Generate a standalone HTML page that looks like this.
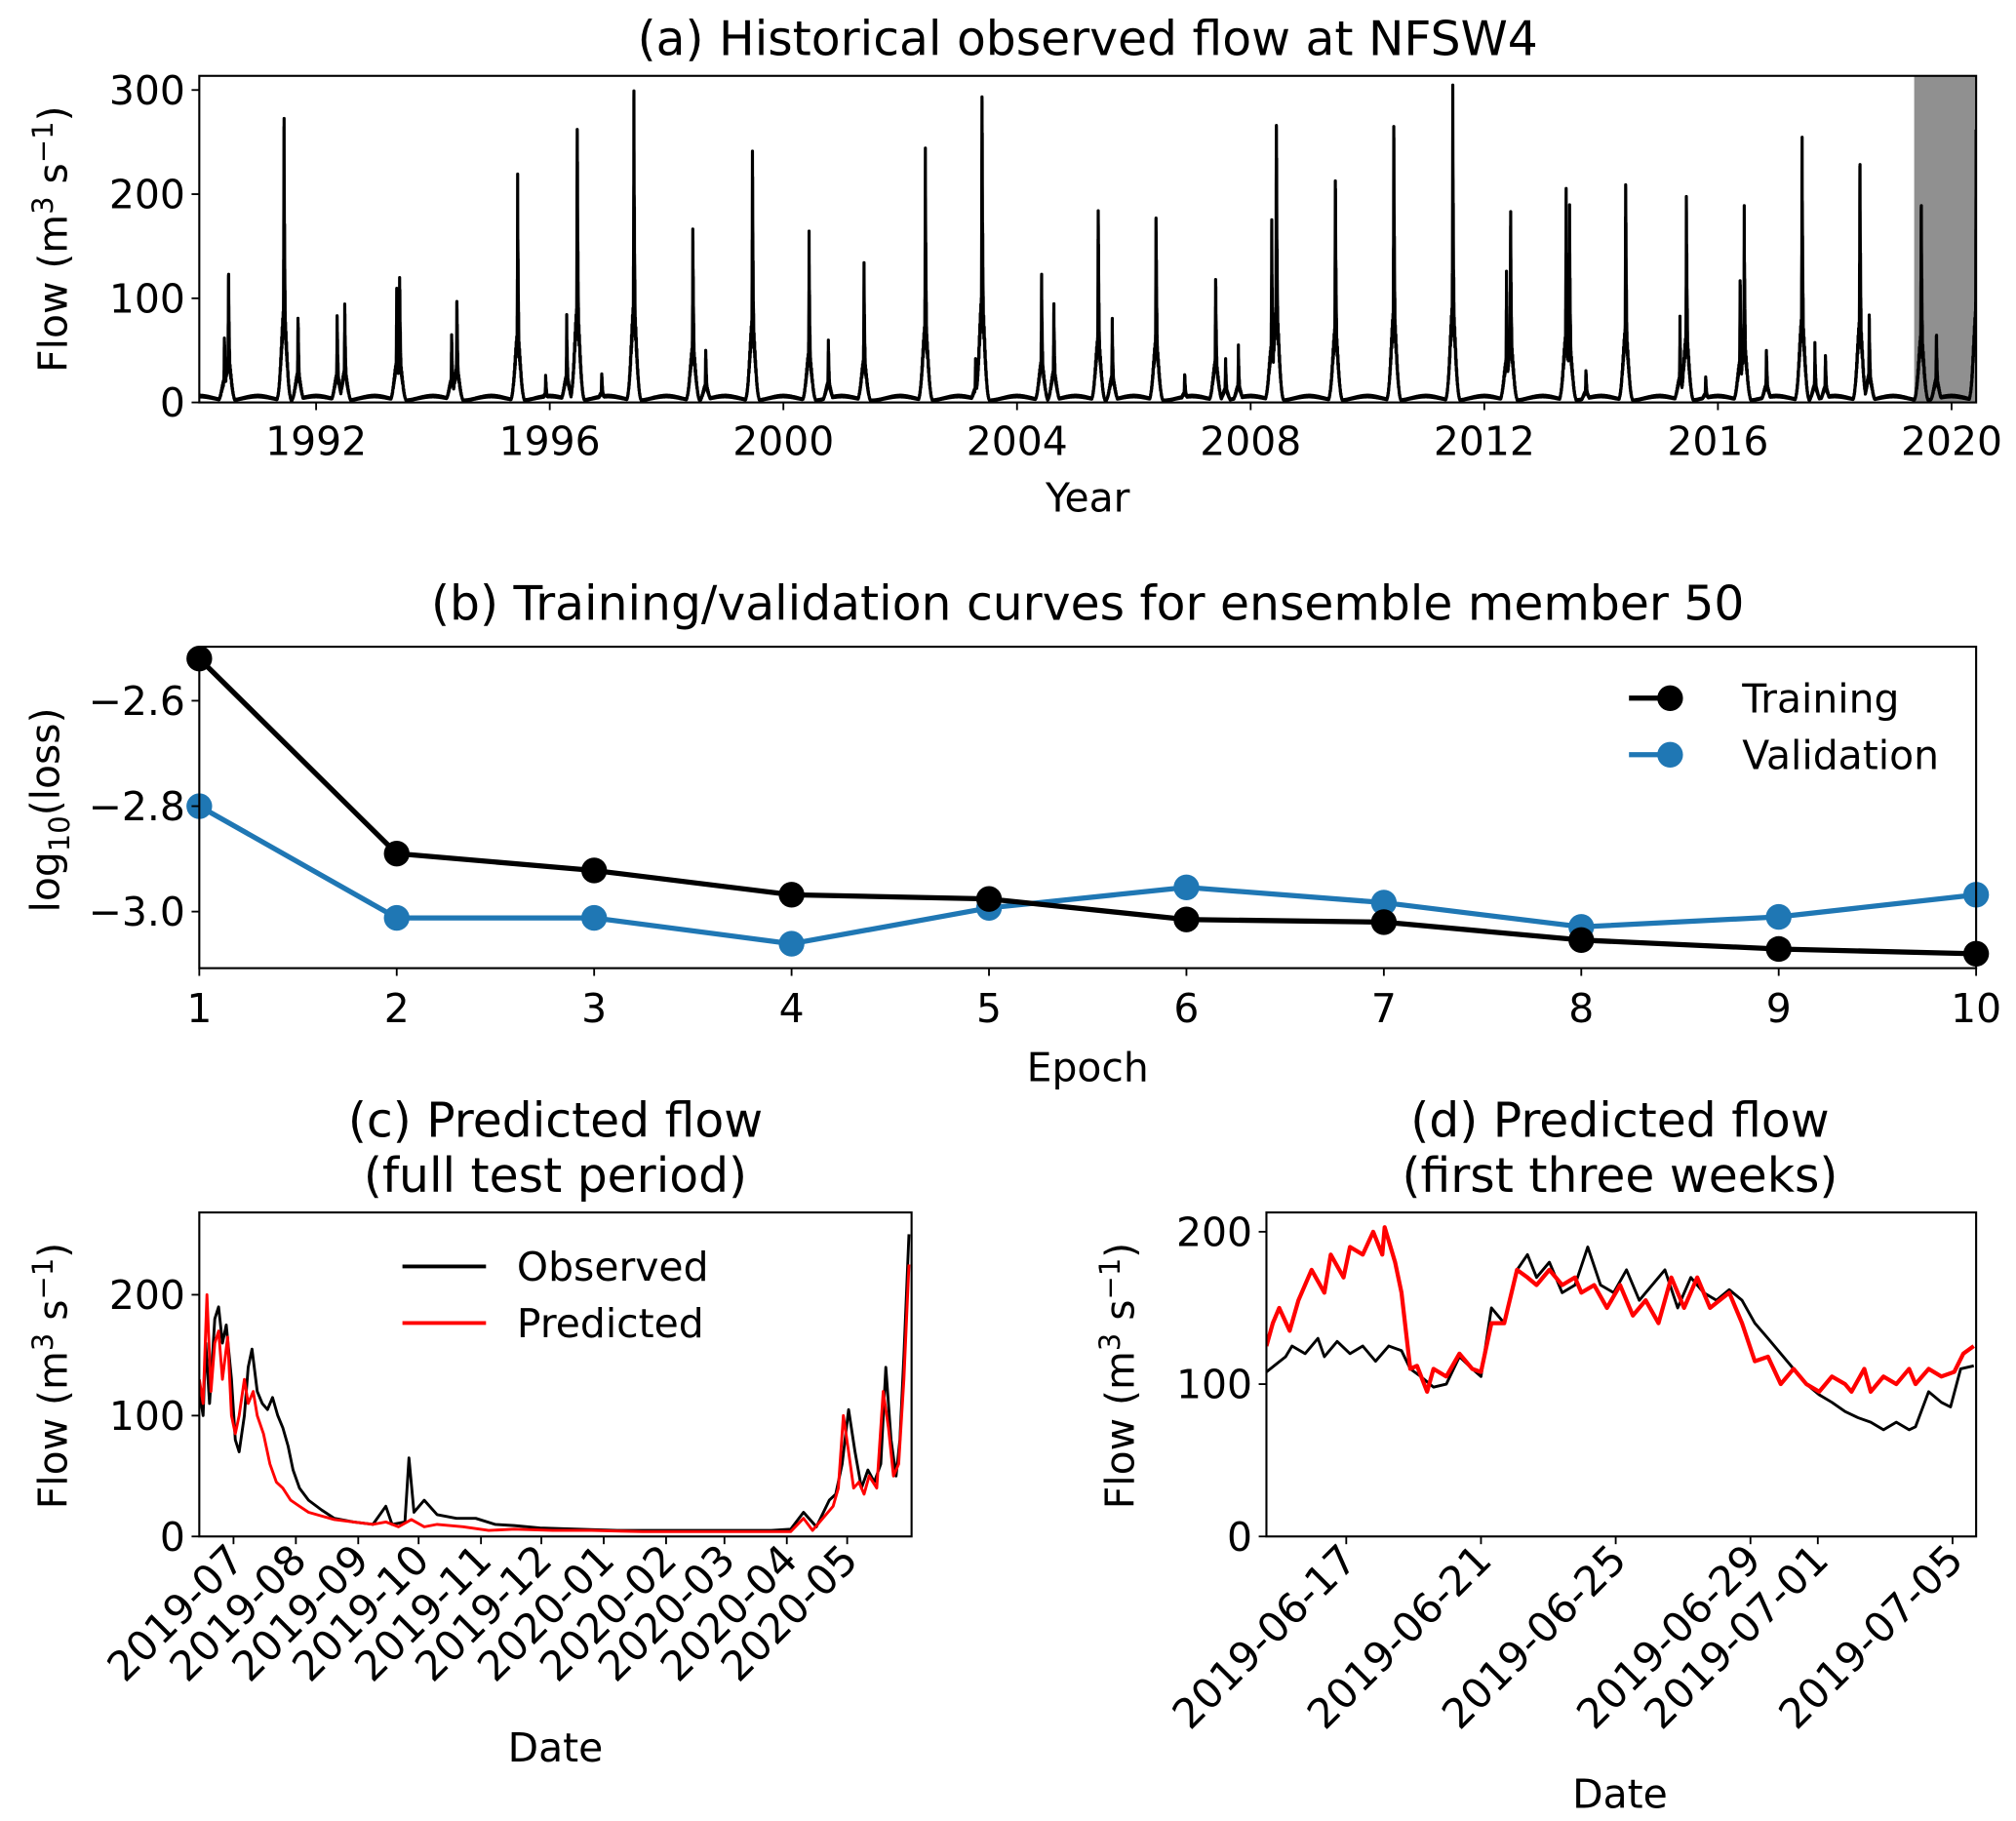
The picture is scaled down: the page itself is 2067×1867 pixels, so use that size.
<!DOCTYPE html>
<html><head><meta charset="utf-8"><style>
html,body{margin:0;padding:0;background:#fff;}
svg{display:block;font-family:"DejaVu Sans","Liberation Sans",sans-serif;}
</style></head><body>
<svg id="fig" width="2067" height="1867" viewBox="0 0 1568 1416.3" xmlns="http://www.w3.org/2000/svg"></svg>
<script>
// ---- Panel (a) data: annual peaks [decimal year, flow] ----
const aPeakYears = [1990.43,1990.5,1991.45,1991.69,1992.36,1992.49,1993.38,1993.43,1994.32,1994.41,1995.45,1995.93,1996.29,1996.47,1996.89,1997.44,1998.45,1998.67,1999.47,2000.44,2000.77,2001.38,2002.43,2003.29,2003.4,2004.42,2004.63,2005.39,2005.63,2006.38,2006.87,2007.4,2007.57,2007.79,2008.36,2008.44,2009.45,2010.45,2011.46,2012.38,2012.45,2013.4,2013.46,2013.74,2014.42,2015.35,2015.46,2015.79,2016.38,2016.45,2016.83,2017.44,2017.66,2017.84,2018.43,2018.59,2019.48,2019.74,2020.42];
const aPeakFlows = [65,125,265,85,80,90,112,120,65,97,195,25,75,268,28,278,160,50,235,143,57,122,222,40,300,117,90,184,75,177,28,118,40,48,163,272,213,258,277,120,178,191,165,32,209,72,190,25,117,168,50,242,50,45,232,80,192,67,262];
const aTicks = [1992,1996,2000,2004,2008,2012,2016,2020];
const aYTicks = [0,100,200,300];
// ---- Panel (b) data ----
const epochs = [1,2,3,4,5,6,7,8,9,10];
const trainLoss = [-2.520,-2.890,-2.922,-2.968,-2.976,-3.015,-3.020,-3.054,-3.071,-3.080];
const valLoss = [-2.800,-3.012,-3.012,-3.061,-2.993,-2.954,-2.983,-3.029,-3.010,-2.968];
const bYTicks = [-2.6,-2.8,-3.0];
// ---- Panel (c) data: days since 2019-06-14 ----
const cObsDays = [0,1.9,3.2,5.1,7.7,9.6,11.5,13.4,16,17.9,19.8,22.4,24.3,26.2,28.8,31.3,33.9,36.4,39,41.5,44.1,46.6,49.8,54.3,60.7,67.1,76.7,86.3,92.7,95.8,102.2,104.2,106.7,111.8,118.2,127.8,137.4,147,156.5,169.3,188.5,207.7,233.2,258.8,284.3,293.9,300.3,306.7,313.1,316.3,319.5,322.7,325.9,329.1,332.3,335.5,338.7,341.2,343.8,346.3,348.2,350.2,352.7];
const cObsFlow = [120,100,160,110,180,190,160,175,130,80,70,100,140,155,120,110,105,115,100,90,75,55,40,30,22,15,12,10,25,10,12,65,20,30,18,15,15,10,9,7,6,5,5,5,5,6,20,8,30,35,60,105,70,40,55,45,60,140,80,50,80,150,250];
const cPredDays = [0,1.9,3.8,5.8,7.7,9.6,11.5,14.1,16,17.9,19.8,22.4,24.3,26.8,28.8,31.9,35.1,38.3,41.5,45.4,49.8,54.3,60.7,67.1,76.7,86.3,92.7,99,105.4,111.8,118.2,131,143.8,156.5,175.7,194.9,220.4,246,271.6,293.9,300.3,304.8,309.9,315,317.6,320.1,322.7,325.2,327.8,330.4,332.9,336.7,339.9,342.5,345,347.6,350.2,352.7];
const cPredFlow = [130,110,200,120,160,170,130,165,100,85,100,130,110,120,100,85,60,45,40,30,25,20,17,14,12,10,12,8,14,8,10,8,5,6,5,5,4,4,4,4,15,5,15,25,40,100,70,40,45,35,50,40,120,90,50,60,130,225];
const cTickDays = [17,48,79,109,140,170,201,232,261,292,322];
const cTickLabels = ["2019-07","2019-08","2019-09","2019-10","2019-11","2019-12","2020-01","2020-02","2020-03","2020-04","2020-05"];
const cYTicks = [0,100,200];
// ---- Panel (d) data: days since 2019-06-14 14:00 ----
const dObsDays = [0,0.57,0.76,1.15,1.53,1.72,2.10,2.48,2.86,3.24,3.63,4.01,4.27,4.58,4.96,5.34,5.73,6.11,6.37,6.68,7.06,7.44,7.75,8.02,8.40,8.78,9.16,9.54,9.92,10.31,10.69,11.07,11.45,11.83,12.21,12.60,12.98,13.36,13.74,14.12,14.50,14.89,15.27,15.65,16.03,16.41,16.79,17.18,17.56,17.94,18.32,18.70,19.08,19.27,19.66,20.04,20.31,20.61,21.0];
const dObsFlow = [108,118,125,120,130,118,128,120,125,115,125,122,110,105,98,100,118,110,105,150,140,175,185,170,180,160,165,190,165,160,175,155,165,175,150,170,160,155,162,155,140,130,120,110,100,93,88,82,78,75,70,75,70,72,95,88,85,110,112];
const dPredDays = [0,0.19,0.38,0.69,0.95,1.34,1.72,1.91,2.29,2.48,2.86,3.17,3.44,3.51,3.82,4.01,4.27,4.47,4.77,4.96,5.34,5.73,6.11,6.37,6.68,7.06,7.44,7.75,8.02,8.40,8.78,9.16,9.35,9.73,10.11,10.50,10.88,11.26,11.64,12.02,12.40,12.79,13.17,13.74,14.12,14.50,14.89,15.27,15.65,16.03,16.41,16.79,17.18,17.37,17.75,17.94,18.32,18.70,19.08,19.27,19.66,20.04,20.42,20.69,21.0];
const dPredFlow = [125,140,150,135,155,175,160,185,170,190,185,200,185,203,180,160,110,112,95,110,105,120,110,108,140,140,175,170,165,175,165,170,160,165,150,165,145,155,140,170,150,170,150,160,140,115,118,100,110,100,95,105,100,95,110,95,105,100,110,100,110,105,108,120,125];
const dTickDays = [2.37,6.37,10.37,14.37,16.37,20.37];
const dTickLabels = ["2019-06-17","2019-06-21","2019-06-25","2019-06-29","2019-07-01","2019-07-05"];
const dYTicks = [0,100,200];

const svg = document.getElementById('fig');
const NS = 'http://www.w3.org/2000/svg';
const FT = 37, FL = 31, FD = 32;
function mk(tag, attrs, parent){const e=document.createElementNS(NS,tag);for(const k in attrs)e.setAttribute(k,attrs[k]);(parent||svg).appendChild(e);return e;}
function txt(s,x,y,size,anchor,parent,rot){const t=mk('text',{x:x,y:y,'font-size':size,'text-anchor':anchor||'middle',fill:'#000'},parent);if(rot!==undefined)t.setAttribute('transform','rotate('+rot+' '+x+' '+y+')');t.textContent=s;return t;}
function lin(d0,d1,p0,p1){return v=>p0+(v-d0)/(d1-d0)*(p1-p0);}
function poly(xs,ys,sx,sy,color,w,parent){let d='';for(let i=0;i<xs.length;i++)d+=(i?'L':'M')+sx(xs[i]).toFixed(2)+' '+sy(ys[i]).toFixed(2);return mk('path',{d:d,fill:'none',stroke:color,'stroke-width':w,'stroke-linejoin':'round'},parent);}
function frame(x0,y0,x1,y1,parent){mk('rect',{x:x0,y:y0,width:x1-x0,height:y1-y0,fill:'none',stroke:'#000','stroke-width':1.6},parent);}
function ylabelFlow(x,y,parent){const t=mk('text',{x:x,y:y,'font-size':FL,'text-anchor':'middle',transform:'rotate(-90 '+x+' '+y+')'},parent);t.innerHTML='Flow (m<tspan dy="-11" font-size="22">3</tspan><tspan dy="11"> s</tspan><tspan dy="-11" font-size="22">−1</tspan><tspan dy="11">)</tspan>';return t;}

// ===== Panel A =====
const gA = mk('g',{});


const axL=155,axR=1537,ayT=59,ayB=313;
const xa = lin(1990,2020,155,155+30*45.43), ya = lin(0,100,313,232);
mk('rect',{x:xa(2019.36),y:ayT,width:axR-xa(2019.36),height:ayB-ayT,fill:'#909090'},gA);
const cpA=mk('clipPath',{id:'clipA'});mk('rect',{x:axL,y:ayT,width:axR-axL,height:ayB-ayT},cpA);
{
  const ts=[],vs=[];
  let k=0;
  for(let t=1990.0;t<=2020.42;t+=0.0012){
    k++;
    let v=4+2*Math.cos((t%1)*6.283);
    for(let i=0;i<aPeakYears.length;i++){
      const dt=t-aPeakYears[i],p=aPeakFlows[i];
      const c1=p*Math.exp(-Math.abs(dt)/(dt<0?0.008:0.018));
      const c2=0.3*p*Math.exp(-Math.pow(dt/0.065,2));
      const c=Math.max(c1,c2);
      if(c>v)v=c;
    }
    v*= (k%7===0?1.15:(k%5===0?0.88:(k%3===0?1.05:1)));
    ts.push(t);vs.push(v);
  }
  const p=poly(ts,vs,xa,ya,'#000',2.4,gA);
  
  p.setAttribute('clip-path','url(#clipA)');
}
frame(axL,ayT,axR,ayB,gA);
aTicks.forEach(y=>{mk('line',{x1:xa(y),x2:xa(y),y1:ayB,y2:ayB+6,stroke:'#000','stroke-width':1.4},gA);txt(String(y),xa(y),ayB+41,FL,'middle',gA);});
aYTicks.forEach(v=>{mk('line',{x1:axL-6,x2:axL,y1:ya(v),y2:ya(v),stroke:'#000','stroke-width':1.4},gA);txt(String(v),axL-11,ya(v)+11,FL,'end',gA);});
txt('(a) Historical observed flow at NFSW4',846,43,FT,'middle',gA);
txt('Year',846,398,FL,'middle',gA);
ylabelFlow(52,186,gA);

// ===== Panel B =====
const gB = mk('g',{});


const bL=155,bR=1537,bT=503,bB=753;
const xb=lin(1,10,bL,bR), yb=lin(-2.6,-3.0,545,709);
const cpB=mk('clipPath',{id:'clipB'});mk('rect',{x:bL-12,y:bT-12,width:bR-bL+24,height:bB-bT+24},cpB);
const sB=mk('g',{'clip-path':'url(#clipB)'},gB);
[[valLoss,'#1f77b4','validation'],[trainLoss,'#000','training']].forEach(([arr,col,nm])=>{
  const l=poly(epochs,arr,xb,yb,col,4,sB);
  
  arr.forEach((v,i)=>{const c=mk('circle',{cx:xb(epochs[i]),cy:yb(v),r:10,fill:col},sB);
    
    });
});
frame(bL,bT,bR,bB,gB);
epochs.forEach(e=>{mk('line',{x1:xb(e),x2:xb(e),y1:bB,y2:bB+6,stroke:'#000','stroke-width':1.4},gB);txt(String(e),xb(e),bB+42,FL,'middle',gB);});
bYTicks.forEach(v=>{mk('line',{x1:bL-6,x2:bL,y1:yb(v),y2:yb(v),stroke:'#000','stroke-width':1.4},gB);txt(v.toFixed(1).replace('-','−'),bL-11,yb(v)+11,FL,'end',gB);});
txt('(b) Training/validation curves for ensemble member 50',846,482,FT,'middle',gB);
txt('Epoch',846,841,FL,'middle',gB);
{const t=mk('text',{x:46,y:630,'font-size':FL,'text-anchor':'middle',transform:'rotate(-90 46 630)'},gB);t.innerHTML='log<tspan dy="8" font-size="22">10</tspan><tspan dy="-8">(loss)</tspan>';}
const lgB=mk('g',{},gB);


[['Training','#000',543],['Validation','#1f77b4',587]].forEach(([n,c,y])=>{mk('line',{x1:1267,x2:1305,y1:y,y2:y,stroke:c,'stroke-width':4},lgB);mk('circle',{cx:1299,cy:y,r:10,fill:c},lgB);txt(n,1355,y+11,FL,'start',lgB);});

// ===== Panel C =====
const gC = mk('g',{});


const cL=155,cR=709,cT=943,cB=1195;
const xc=lin(0,354,cL,cR), yc=lin(0,100,1195,1101);
const cpC=mk('clipPath',{id:'clipC'});mk('rect',{x:cL,y:cT,width:cR-cL,height:cB-cT},cpC);
const sC=mk('g',{'clip-path':'url(#clipC)'},gC);
poly(cObsDays,cObsFlow,xc,yc,'#000',2.2,sC);
poly(cPredDays,cPredFlow,xc,yc,'#ff0000',2.2,sC);
frame(cL,cT,cR,cB,gC);
cTickDays.forEach((d,i)=>{const x=xc(d);mk('line',{x1:x,x2:x,y1:cB,y2:cB+6,stroke:'#000','stroke-width':1.4},gC);txt(cTickLabels[i],x+10,cB+20,FD,'end',gC,-45);});
cYTicks.forEach(v=>{mk('line',{x1:cL-6,x2:cL,y1:yc(v),y2:yc(v),stroke:'#000','stroke-width':1.4},gC);txt(String(v),cL-11,yc(v)+11,FL,'end',gC);});
txt('(c) Predicted flow',432,884,FT,'middle',gC);
txt('(full test period)',432,927,FT,'middle',gC);
txt('Date',432,1370,FL,'middle',gC);
ylabelFlow(52,1070,gC);
const lgC=mk('g',{},gC);


[['Observed','#000',985],['Predicted','#ff0000',1029]].forEach(([n,c,y])=>{mk('line',{x1:313,x2:378,y1:y,y2:y,stroke:c,'stroke-width':3},lgC);txt(n,402,y+11,FL,'start',lgC);});

// ===== Panel D =====
const gD = mk('g',{});


const dL=985,dR=1537,dT=943,dB=1195;
const xd=lin(0,21.07,dL,dR), yd=lin(0,100,1195,1076.5);
const cpD=mk('clipPath',{id:'clipD'});mk('rect',{x:dL,y:dT,width:dR-dL,height:dB-dT},cpD);
const sD=mk('g',{'clip-path':'url(#clipD)'},gD);
poly(dObsDays,dObsFlow,xd,yd,'#000',2.2,sD);
poly(dPredDays,dPredFlow,xd,yd,'#ff0000',3.2,sD);
frame(dL,dT,dR,dB,gD);
dTickDays.forEach((d,i)=>{const x=xd(d);mk('line',{x1:x,x2:x,y1:dB,y2:dB+6,stroke:'#000','stroke-width':1.4},gD);txt(dTickLabels[i],x+10,dB+20,FD,'end',gD,-45);});
dYTicks.forEach(v=>{mk('line',{x1:dL-6,x2:dL,y1:yd(v),y2:yd(v),stroke:'#000','stroke-width':1.4},gD);txt(String(v),dL-11,yd(v)+11,FL,'end',gD);});
txt('(d) Predicted flow',1260,884,FT,'middle',gD);
txt('(first three weeks)',1260,927,FT,'middle',gD);
txt('Date',1260,1406,FL,'middle',gD);
ylabelFlow(882,1070,gD);
</script>
</body></html>
